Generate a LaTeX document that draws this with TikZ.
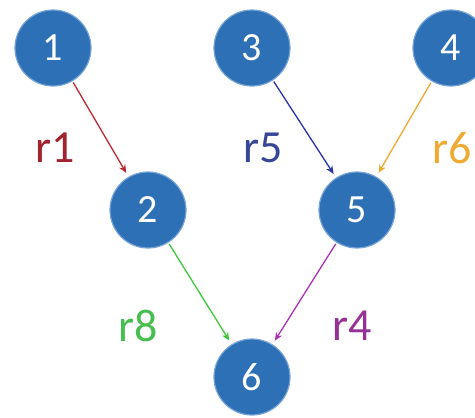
\documentclass[tikz,border=0pt]{standalone}
\usepackage{fontspec}
\setmainfont{Carlito}
\usetikzlibrary{arrows.meta}
\definecolor{ballblue}{RGB}{46,112,182}
\definecolor{ballrim}{RGB}{120,165,215}
\definecolor{cred}{RGB}{190,40,50}
\definecolor{cblue}{RGB}{40,50,170}
\definecolor{corange}{RGB}{240,170,50}
\definecolor{cgreen}{RGB}{60,200,60}
\definecolor{cpurple}{RGB}{170,50,180}
\definecolor{lred}{RGB}{160,35,45}
\definecolor{lblue}{RGB}{55,70,150}
\definecolor{lgreen}{RGB}{70,190,80}
\definecolor{lpurple}{RGB}{150,50,150}
\tikzset{
  ball/.style={circle, minimum size=76pt, inner sep=0pt, outer sep=0pt,
    fill=ballblue, draw=ballrim, line width=1.2pt, text=white,
    font=\fontsize{40}{40}\selectfont},
  edge/.style={line width=1.3pt, -{Stealth[length=8pt,width=7pt]},
    shorten <=2pt, shorten >=5pt},
  lab/.style={font=\fontsize{46}{46}\selectfont, inner sep=0pt}
}
\begin{document}
\begin{tikzpicture}[x=1pt,y=-1pt]
\useasboundingbox (0,0) rectangle (475,418);
\node[ball] (n1) at (53,48) {1};
\node[ball] (n3) at (252,48) {3};
\node[ball] (n4) at (451,48) {4};
\node[ball] (n2) at (148,210) {2};
\node[ball] (n5) at (357,210) {5};
\node[ball] (n6) at (252,377) {6};
\draw[edge, cred] (n1) -- (n2);
\draw[edge, cblue] (n3) -- (n5);
\draw[edge, corange] (n4) -- (n5);
\draw[edge, cgreen] (n2) -- (n6);
\draw[edge, cpurple] (n5) -- (n6);
\node[lab, text=lred] (l1) at (55,148) {r1};
\node[lab, text=lblue] (l5) at (263,148) {r5};
\node[lab, text=corange, anchor=west] (l6) at (432,148) {r6};
\node[lab, text=lgreen] (l8) at (138,326) {r8};
\node[lab, text=lpurple] (l4) at (352,326) {r4};
\end{tikzpicture}
\end{document}
